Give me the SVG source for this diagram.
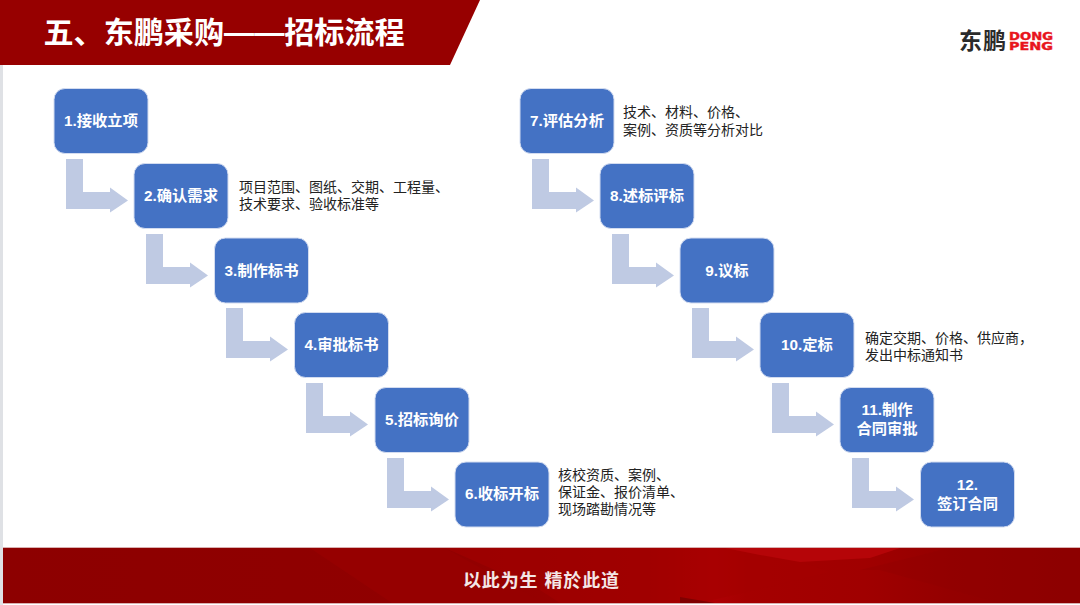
<svg xmlns="http://www.w3.org/2000/svg" width="1080" height="605" viewBox="0 0 1080 605">
<style>
text{font-family:"Liberation Sans","Noto Sans CJK SC",sans-serif}
.box{fill:#4472c4;stroke:#d3dcf0;stroke-width:1}
.lbl{fill:#fff;font-size:15.3px;font-weight:700;text-anchor:middle}
.note{fill:#222;font-size:14px}
.arr{fill:#bfcae3}
.brand{fill:#e8141c;font-family:"DejaVu Sans",sans-serif;font-size:10.5px;font-weight:700;stroke:#e8141c;stroke-width:.4}
</style>
<defs>
<linearGradient id="foot" x1="0" x2="1" y1="0" y2="0"><stop offset="0" stop-color="#8d0000"/><stop offset=".4" stop-color="#900000"/><stop offset=".6" stop-color="#9c0000"/><stop offset=".66" stop-color="#ae0004"/><stop offset=".69" stop-color="#a50000"/><stop offset=".8" stop-color="#a00000"/><stop offset=".88" stop-color="#940000"/><stop offset="1" stop-color="#8c0000"/></linearGradient>
<path id="bend" d="M66 159H83V192H110V187.500L128 200.500L110 212.500V209H66Z"/>
</defs>
<rect width="1080" height="605" fill="#fff"/>
<rect x="0" y="65" width="3" height="540" fill="#dfe1e5"/>
<g id="header"><polygon points="0,0 480,0 450,65 0,65" fill="#970000"/>
<text x="43.500" y="43" fill="#fff" font-size="30.100" font-weight="700">五、东鹏采购——招标流程</text></g>
<g id="logo"><text x="959" y="49" fill="#2b2b2b" font-size="23" font-weight="700" textLength="47">东鹏</text>
<text class="brand" x="1009" y="40" textLength="44" lengthAdjust="spacingAndGlyphs">DONG</text>
<text class="brand" x="1009" y="50" textLength="44" lengthAdjust="spacingAndGlyphs">PENG</text></g>
<g id="footer"><rect x="3" y="547" width="1077" height="57" fill="#d9b0b0"/><rect x="3" y="548" width="1077" height="55" fill="url(#foot)"/>
<polygon points="445,548 720,548 760,548 830,572 700,603 560,603 540,590" fill="#a40000" opacity=".55"/>
<polygon points="310,548 445,548 520,590 545,603 392,603" fill="#960000"/>
<polygon points="725,548 900,548 870,558 800,562 760,555" fill="#b50508"/>
<polygon points="680,597 680,603 715,603" fill="#800000"/>
<polygon points="860,570 950,548 1080,548 1080,603 1000,603 880,570" fill="#8e0000" opacity=".35"/>
<text x="463" y="587" fill="#f3e6e6" font-size="18" font-weight="700" textLength="156">以此为生 精於此道</text></g>
<g id="connectors" class="arr">
<use href="#bend"/>
<use href="#bend" x="80" y="75"/>
<use href="#bend" x="160" y="149"/>
<use href="#bend" x="240" y="224"/>
<use href="#bend" x="321" y="299"/>
<use href="#bend" x="466"/>
<use href="#bend" x="546" y="75"/>
<use href="#bend" x="626" y="149"/>
<use href="#bend" x="706" y="224"/>
<use href="#bend" x="786" y="299"/>
</g>
<g id="n1"><rect class="box" x="54" y="88.500" width="94" height="65" rx="11"/><text class="lbl" x="101" y="126">1.接收立项</text></g>
<g id="n2"><rect class="box" x="134" y="163.500" width="94" height="65" rx="11"/><text class="lbl" x="181" y="201">2.确认需求</text>
<text class="note" x="239" y="192">项目范围、图纸、交期、工程量、</text><text class="note" x="239" y="209">技术要求、验收标准等</text></g>
<g id="n3"><rect class="box" x="214.500" y="238" width="94" height="65" rx="11"/><text class="lbl" x="261.500" y="276">3.制作标书</text></g>
<g id="n4"><rect class="box" x="294.500" y="312.500" width="94" height="65" rx="11"/><text class="lbl" x="341.500" y="350">4.审批标书</text></g>
<g id="n5"><rect class="box" x="375" y="387.500" width="94" height="65" rx="11"/><text class="lbl" x="422" y="425">5.招标询价</text></g>
<g id="n6"><rect class="box" x="455" y="462" width="94" height="65" rx="11"/><text class="lbl" x="502" y="499">6.收标开标</text>
<text class="note" x="558" y="480">核校资质、案例、</text><text class="note" x="558" y="497">保证金、报价清单、</text><text class="note" x="558" y="514">现场踏勘情况等</text></g>
<g id="n7"><rect class="box" x="520" y="88.500" width="94" height="65" rx="11"/><text class="lbl" x="567" y="126">7.评估分析</text>
<text class="note" x="623" y="117">技术、材料、价格、</text><text class="note" x="623" y="135">案例、资质等分析对比</text></g>
<g id="n8"><rect class="box" x="600" y="163.500" width="94" height="65" rx="11"/><text class="lbl" x="647" y="201">8.述标评标</text></g>
<g id="n9"><rect class="box" x="680" y="238" width="94" height="65" rx="11"/><text class="lbl" x="727" y="276">9.议标</text></g>
<g id="n10"><rect class="box" x="760" y="312.500" width="94" height="65" rx="11"/><text class="lbl" x="807" y="350">10.定标</text>
<text class="note" x="865" y="343">确定交期、价格、供应商，</text><text class="note" x="865" y="360">发出中标通知书</text></g>
<g id="n11"><rect class="box" x="840" y="387.500" width="94" height="65" rx="11"/><text class="lbl" x="887" y="415">11.制作</text><text class="lbl" x="887" y="434">合同审批</text></g>
<g id="n12"><rect class="box" x="920.500" y="462" width="94" height="65" rx="11"/><text class="lbl" x="967.500" y="490">12.</text><text class="lbl" x="967.500" y="509">签订合同</text></g>
</svg>
